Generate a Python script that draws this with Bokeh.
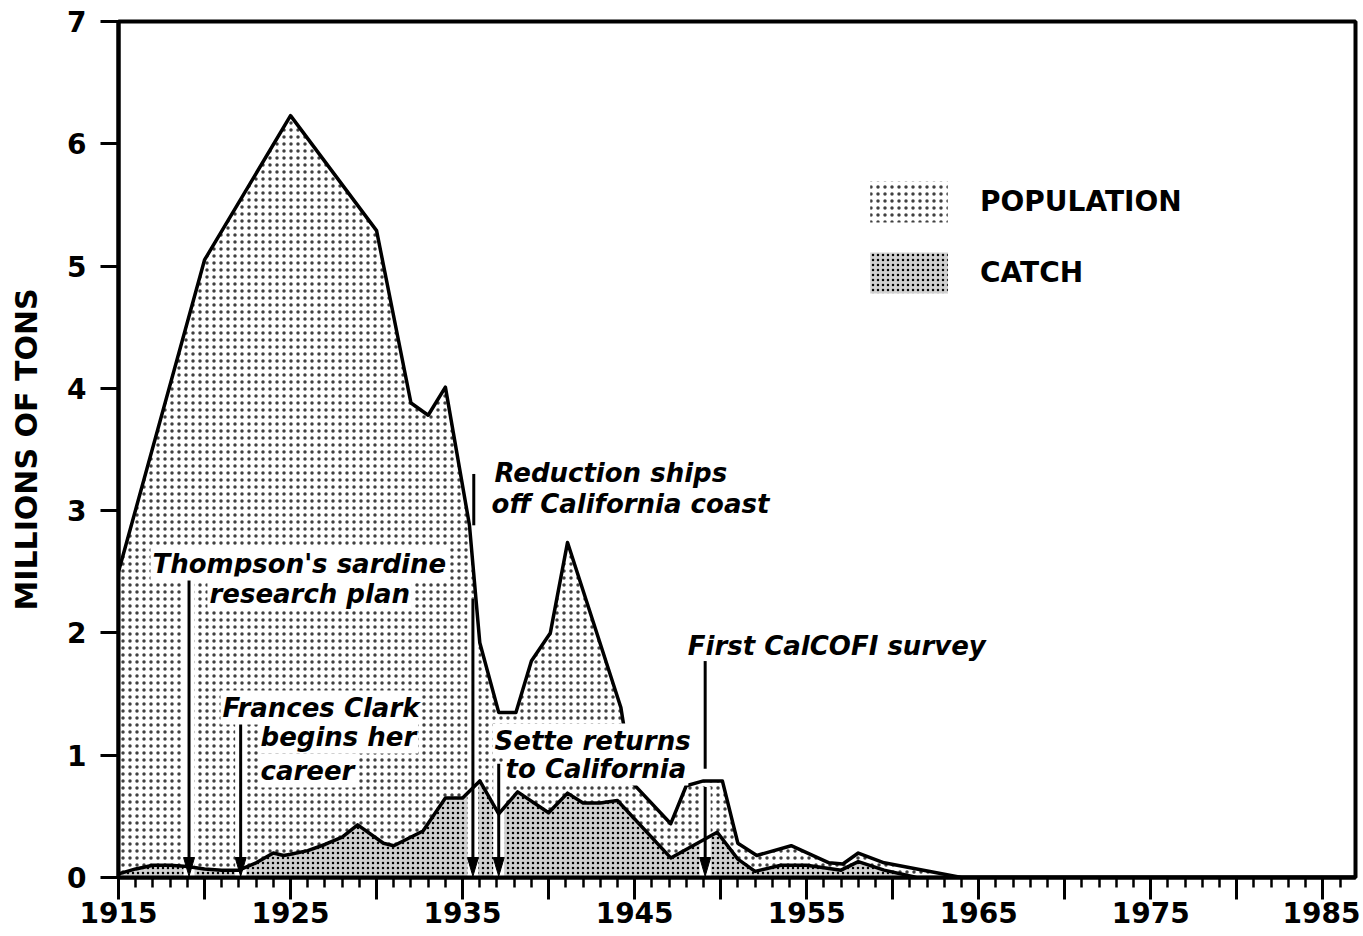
from bokeh.plotting import figure
from bokeh.models import Range1d, FixedTicker, Label, Legend, LegendItem
from bokeh.embed import file_html
from bokeh.resources import INLINE

# ---------------- data ----------------
pop_years = [1915, 1920, 1925, 1930, 1932, 1933, 1934, 1935.4, 1936, 1937.1, 1938.1,
             1939, 1940.1, 1941.1, 1944.2, 1944.9, 1947.1, 1948, 1949, 1950.1, 1951,
             1952.1, 1954.1, 1956.3, 1957.1, 1958, 1959.5, 1961.4, 1964, 1987]
pop_vals = [2.5, 5.05, 6.23, 5.29, 3.88, 3.78, 4.01, 2.88, 1.92, 1.35, 1.35,
            1.77, 2.0, 2.74, 1.39, 0.77, 0.44, 0.75, 0.79, 0.79, 0.28,
            0.18, 0.26, 0.12, 0.11, 0.2, 0.12, 0.07, 0.0, 0.0]

catch_years = [1915, 1916, 1917, 1918, 1919, 1920, 1921, 1922, 1923, 1924, 1924.6,
               1925, 1926, 1927, 1928, 1928.9, 1930.4, 1931, 1932.7, 1934, 1935,
               1936, 1937.1, 1938.2, 1940, 1941.1, 1942, 1943, 1944, 1947.1, 1949.8,
               1951, 1952, 1953.5, 1955, 1957, 1958, 1959.5, 1961.4, 1987]
catch_vals = [0.03, 0.07, 0.1, 0.1, 0.09, 0.07, 0.06, 0.06, 0.12, 0.2, 0.18,
              0.19, 0.22, 0.27, 0.33, 0.43, 0.28, 0.26, 0.38, 0.65, 0.65,
              0.79, 0.52, 0.7, 0.53, 0.69, 0.61, 0.61, 0.63, 0.16, 0.37,
              0.15, 0.05, 0.1, 0.1, 0.06, 0.13, 0.06, 0.0, 0.0]

x_major_ticks = list(range(1915, 1990, 5))
x_minor_ticks = list(range(1915, 1987))
x_labelled = [1915, 1925, 1935, 1945, 1955, 1965, 1975, 1985]
y_ticks = [0, 1, 2, 3, 4, 5, 6, 7]
series_names = ["POPULATION", "CATCH"]

# event annotations: arrows (year, top value) and extra plain lines
arrow_years = [1919.1, 1922.1, 1935.6, 1937.1, 1949.1]
arrow_tops = [2.49, 1.34, 2.28, 0.93, 0.74]
line_years = [1935.65, 1949.1]
line_tops = [3.30, 1.77]
line_bottoms = [2.88, 0.89]

note_texts = ["Thompson's sardine", "research plan",
              "Frances Clark", "begins her", "career",
              "Reduction ships", "off California coast",
              "Sette returns", "to California",
              "First CalCOFI survey"]
note_x = [1916.86, 1920.17, 1920.93, 1923.14, 1923.14, 1936.74, 1936.57, 1936.74, 1937.38, 1947.97]
note_y = [2.567, 2.322, 1.39, 1.153, 0.875, 3.31, 3.058, 1.12, 0.891, 1.897]
note_boxed = [True, True, True, True, True, False, False, True, True, False]

# ---------------- figure ----------------
X0, X1 = 1915, 1986.9
W, H = 1360, 936
ML, MR, MT, MB = 118, 5, 21, 59

p = figure(width=W, height=H, x_range=Range1d(X0, X1), y_range=Range1d(0, 7),
           output_backend="svg", toolbar_location=None,
           min_border_left=ML, min_border_right=MR, min_border_top=MT, min_border_bottom=MB)
p.grid.visible = False
p.outline_line_color = "black"
p.outline_line_width = 4
p.background_fill_color = "white"
p.border_fill_color = "white"

px_per_year = (W - ML - MR) / (X1 - X0)
px_per_val = (H - MT - MB) / 7.0

FONT = "DejaVu Sans"

# axes
xa = p.xaxis[0]
xa.ticker = FixedTicker(ticks=x_major_ticks, minor_ticks=x_minor_ticks)
xa.major_label_overrides = {t: (str(t) if t in x_labelled else "") for t in x_major_ticks}
xa.axis_line_width = 4
xa.major_tick_in = 0
xa.major_tick_out = 22
xa.major_tick_line_width = 3
xa.minor_tick_in = 0
xa.minor_tick_out = 10
xa.minor_tick_line_width = 2.5
xa.major_label_standoff = 2
xa.major_label_text_font = FONT
xa.major_label_text_font_style = "bold"
xa.major_label_text_font_size = "28px"
xa.major_label_text_color = "black"

ya = p.yaxis[0]
ya.ticker = FixedTicker(ticks=y_ticks)
ya.axis_line_width = 4
ya.major_tick_in = 0
ya.major_tick_out = 18
ya.major_tick_line_width = 3
ya.minor_tick_line_color = None
ya.major_label_standoff = 14
ya.major_label_text_font = FONT
ya.major_label_text_font_style = "bold"
ya.major_label_text_font_size = "28px"
ya.major_label_text_color = "black"
ya.axis_label = "MILLIONS OF TONS"
ya.axis_label_text_font = FONT
ya.axis_label_text_font_style = "bold"
ya.axis_label_text_font_size = "30px"
ya.axis_label_text_color = "black"
ya.axis_label_standoff = 20

# areas
pop_r = p.varea(x=pop_years, y1=[0] * len(pop_years), y2=pop_vals,
                fill_color="white", hatch_pattern="dot", hatch_color="black",
                hatch_alpha=0.75, hatch_scale=7, hatch_weight=2.0)
catch_r = p.varea(x=catch_years, y1=[0] * len(catch_years), y2=catch_vals,
                  fill_color="#d0d0d0", hatch_pattern="dot", hatch_color="black",
                  hatch_scale=5, hatch_weight=2.0)

# white halos round the arrows
p.segment(x0=arrow_years, y0=arrow_tops, x1=arrow_years, y1=[0] * len(arrow_years),
          line_color="white", line_width=11, line_cap="butt")

# outlines
p.line(pop_years, pop_vals, line_color="black", line_width=3.5, line_join="round")
p.line(catch_years, catch_vals, line_color="black", line_width=3.5, line_join="round")

# arrow shafts, heads and plain lines
head_len = 20 / px_per_val
head_hw = 5.5 / px_per_year
p.segment(x0=arrow_years, y0=arrow_tops, x1=arrow_years, y1=[head_len * 0.8] * len(arrow_years),
          line_color="black", line_width=3, line_cap="butt")
p.patches(xs=[[x - head_hw, x + head_hw, x] for x in arrow_years],
          ys=[[head_len, head_len, 0.01] for _ in arrow_years],
          fill_color="black", line_color="black", line_width=1)
p.segment(x0=line_years, y0=line_tops, x1=line_years, y1=line_bottoms,
          line_color="black", line_width=3, line_cap="butt")

# annotation texts
for t, x, y, boxed in zip(note_texts, note_x, note_y, note_boxed):
    lab = Label(x=x, y=y, text=t, text_font=FONT, text_font_style="bold italic",
                text_font_size="26px", text_color="black", text_align="left",
                text_baseline="alphabetic", padding=2,
                background_fill_color="white" if boxed else None)
    p.add_layout(lab)

# legend
legend = Legend(items=[LegendItem(label=series_names[0], renderers=[pop_r]),
                       LegendItem(label=series_names[1], renderers=[catch_r])],
                location=(742, 579), glyph_width=97, glyph_height=51, spacing=20,
                padding=0, margin=0, border_line_color=None, background_fill_alpha=0,
                label_text_font=FONT, label_text_font_style="bold",
                label_text_font_size="28px", label_text_color="black",
                label_standoff=23, label_height=51)
p.add_layout(legend)

open("out.html", "w").write(file_html(p, INLINE))
